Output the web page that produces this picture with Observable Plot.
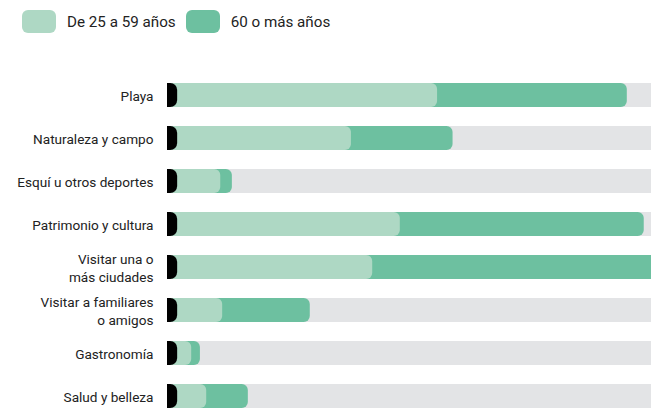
<!DOCTYPE html>
<html><head><meta charset="utf-8">
<script src="https://cdn.jsdelivr.net/npm/d3@7"></script>
<script src="https://cdn.jsdelivr.net/npm/@observablehq/plot@0.6"></script>
<style>
body{margin:0;background:#fff;font-family:Roboto,"Noto Sans",sans-serif;}
#legend{height:50px;display:flex;align-items:flex-start;padding-top:10px;box-sizing:border-box;padding-left:22px;font-size:15.2px;color:#222;}
.item{display:flex;align-items:center;margin-right:10px;}
.sw{width:34px;height:23px;border-radius:6px;margin-right:11px;}
</style></head>
<body>
<div id="legend"></div>
<div id="chart"></div>
<script>
const categories = ["Playa","Naturaleza y campo","Esquí u otros deportes","Patrimonio y cultura","Visitar una o\nmás ciudades","Visitar a familiares\no amigos","Gastronomía","Salud y belleza"];
const age25to59 = [55.8, 38.0, 11.0, 48.1, 42.4, 11.4, 5.0, 8.1];
const age60plus = [95.0, 59.0, 13.4, 98.5, 103, 29.5, 6.8, 16.7];
const seriesNames = ["De 25 a 59 años","60 o más años"];
const colors = ["#aed8c4","#6dc0a0"];

const legend = document.getElementById("legend");
seriesNames.forEach((n,i)=>{
  const it = document.createElement("div"); it.className="item";
  const sw = document.createElement("div"); sw.className="sw"; sw.style.background=colors[i];
  const t = document.createElement("span"); t.textContent=n;
  it.append(sw,t); legend.append(it);
});

const rows = categories.map((c,i)=>({cat:c, a:age25to59[i], b:age60plus[i]}));

const chart = Plot.plot({
  width:651, height:361,
  marginLeft:167, marginRight:0, marginTop:30, marginBottom:0,
  style:{fontFamily:"Roboto, 'Noto Sans', sans-serif"},
  x:{domain:[0,100], axis:null},
  y:{domain:categories, axis:null, paddingInner:0.443, paddingOuter:0.03},
  marks:[
    Plot.barX(rows,{y:"cat", x1:-5, x2:120, fill:"#e3e4e6", clip:true}),
    Plot.barX(rows,{y:"cat", x1:-5, x2:"b", fill:colors[1], rx:6, clip:true}),
    Plot.barX(rows,{y:"cat", x1:-5, x2:"a", fill:colors[0], rx:6, clip:true}),
    Plot.barX(rows,{y:"cat", x1:-5, x2:2.1, fill:"#000", rx:7, clip:true}),
    Plot.text(rows,{y:"cat", x:0, text:"cat", textAnchor:"end", dx:-14, fontSize:13.6, lineHeight:1.3, fill:"#222"})
  ]
});
document.getElementById("chart").append(chart);
</script>
</body></html>
